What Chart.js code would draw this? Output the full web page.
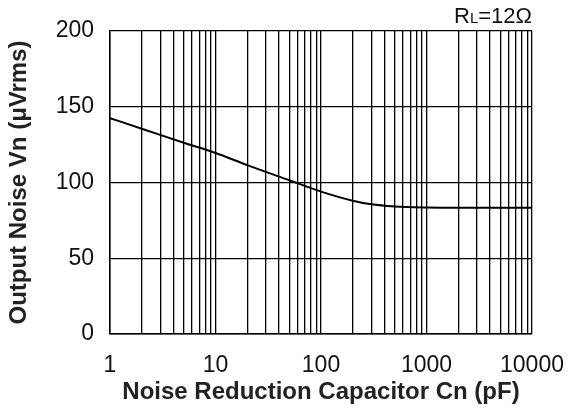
<!DOCTYPE html>
<html>
<head>
<meta charset="utf-8">
<script src="https://cdn.jsdelivr.net/npm/chart.js@4.4.1/dist/chart.umd.min.js"></script>
<style>
  html, body { margin: 0; padding: 0; background: #fff; }
  #wrap { position: relative; width: 574px; height: 418px; }
</style>
</head>
<body>
<div id="wrap"><canvas id="grafico1" width="574" height="418"></canvas></div>
<script>
// capacitance Cn (pF) and output noise (uVrms)
const capacitancia = [1, 2, 5, 10, 20, 50, 100, 200, 300, 500, 1000, 2000, 10000];
const ruido = [142.5, 135.5, 126.2, 119.5, 111.5, 101.5, 94, 88, 85.6, 84.2, 83.5, 83.3, 83.3];
const decadas = [1, 10, 100, 1000, 10000];
const rotulosX = ['1', '10', '100', '1000', '10000'];
const rotulosY = [0, 50, 100, 150, 200];

const fonte = "'Liberation Sans', Arial, Helvetica, sans-serif";

// ticks at 1..9 of each decade so every minor grid line gets drawn
function ticksLog() {
  let t = [];
  for (let d = 0; d < decadas.length - 1; d++) {
    for (let m = 1; m < 10; m++) t.push({ value: decadas[d] * m });
  }
  t.push({ value: decadas[decadas.length - 1] });
  return t;
}

const anotacao = {
  id: 'anotacao',
  afterDraw(chart) {
    const c = chart.ctx;
    const area = chart.chartArea;
    c.save();
    c.fillStyle = '#111';
    c.textBaseline = 'alphabetic';
    const y = area.top - 8;
    c.font = '22px ' + fonte;
    const resto = '=12\u03A9';
    const wResto = c.measureText(resto).width;
    c.font = '15px ' + fonte;
    const wL = c.measureText('L').width;
    c.font = '22px ' + fonte;
    const wR = c.measureText('R').width;
    let x = area.right - wResto - wL - wR;
    c.fillText('R', x, y);
    x += wR;
    c.font = '15px ' + fonte;
    c.fillText('L', x, y);
    x += wL;
    c.font = '22px ' + fonte;
    c.fillText(resto, x, y);
    c.restore();
  }
};

const ctx = document.getElementById('grafico1');

new Chart(ctx, {
  type: 'line',
  data: {
    datasets: [{
      data: capacitancia.map((c, i) => ({ x: c, y: ruido[i] })),
      borderColor: '#000',
      borderWidth: 2,
      pointRadius: 0,
      cubicInterpolationMode: 'monotone',
      fill: false
    }]
  },
  options: {
    responsive: false,
    animation: false,
    layout: { padding: { left: 0, right: 42, top: 31, bottom: 0 } },
    plugins: { legend: { display: false }, tooltip: { enabled: false } },
    scales: {
      x: {
        type: 'logarithmic',
        min: 1,
        max: 10000,
        afterBuildTicks(s) { s.ticks = ticksLog(); },
        afterFit(s) { s.height = 84; s.paddingLeft = 0; s.paddingRight = 0; },
        grid: { color: '#000', lineWidth: 1.3, drawTicks: false },
        border: { color: '#000', width: 1.5 },
        ticks: {
          autoSkip: false,
          maxRotation: 0,
          padding: 18,
          color: '#111',
          font: { family: fonte, size: 23 },
          callback(v) {
            const i = decadas.indexOf(v);
            return i >= 0 ? rotulosX[i] : '';
          }
        },
        title: {
          display: true,
          text: 'Noise Reduction Capacitor Cn (pF)',
          color: '#222',
          font: { family: fonte, size: 24, weight: 'bold' },
          padding: { top: 0, bottom: 11 }
        }
      },
      y: {
        min: 0,
        max: 200,
        afterBuildTicks(s) { s.ticks = rotulosY.map(v => ({ value: v })); },
        afterFit(s) { s.width = 110; s.paddingTop = 0; s.paddingBottom = 0; },
        grid: { color: '#000', lineWidth: 1.3, drawTicks: false },
        border: { color: '#000', width: 1.5 },
        ticks: {
          padding: 16,
          color: '#111',
          font: { family: fonte, size: 23 }
        },
        title: {
          display: true,
          text: 'Output Noise Vn (\u03BCVrms)',
          color: '#222',
          font: { family: fonte, size: 24, weight: 'bold' },
          padding: { top: 5, bottom: 0 }
        }
      }
    }
  },
  plugins: [anotacao]
});
</script>
</body>
</html>
